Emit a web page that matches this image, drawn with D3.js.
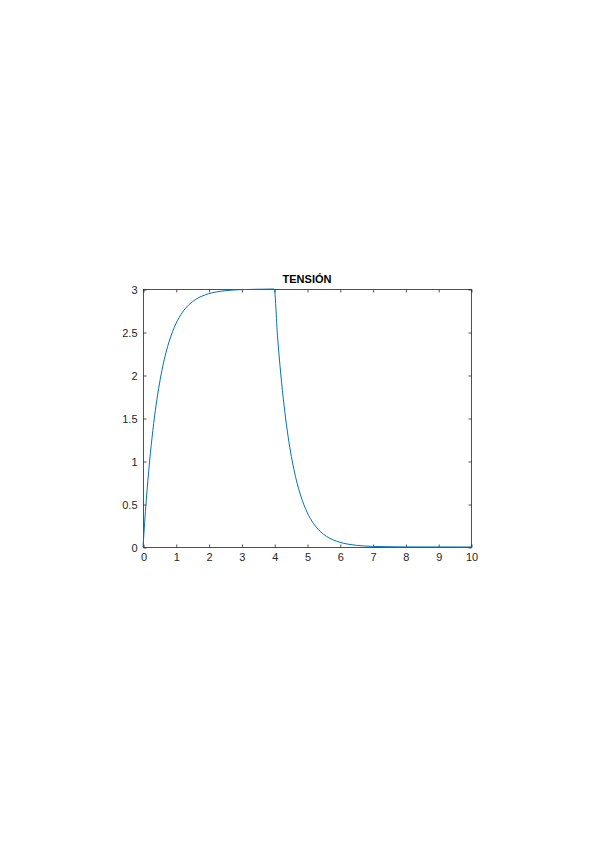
<!doctype html>
<html lang="es">
<head>
<meta charset="UTF-8">
<title>TENSIÓN</title>
<script src="https://d3js.org/d3.v7.min.js"></script>
<style>
  body { margin: 0; background: #fff; }
  svg { display: block; }
  text { font-family: "Liberation Sans", Arial, sans-serif; }
</style>
</head>
<body>
<script>
// values (time, voltage)
var tiempo = [0, 0.1, 0.2, 0.3, 0.4, 0.5, 0.6, 0.7, 0.8, 0.9, 1.0,
              1.1, 1.2, 1.3, 1.4, 1.5, 1.6, 1.7, 1.8, 1.9, 2.0,
              2.25, 2.5, 2.75, 3.0, 3.5, 4.0,
              4.1, 4.2, 4.3, 4.4, 4.5, 4.6, 4.7, 4.8, 4.9, 5.0,
              5.2, 5.4, 5.6, 5.8, 6.0, 6.5, 7.0, 7.5, 8.0, 10.0];
var tension = [0, 0.544, 0.989, 1.354, 1.652, 1.896, 2.096, 2.260, 2.394, 2.504, 2.594,
               2.668, 2.728, 2.777, 2.818, 2.851, 2.878, 2.900, 2.918, 2.933, 2.945,
               2.967, 2.980, 2.988, 2.993, 2.997, 3.0,
               2.456, 2.011, 1.646, 1.348, 1.104, 0.904, 0.740, 0.606, 0.496, 0.406,
               0.272, 0.182, 0.122, 0.082, 0.055, 0.020, 0.007, 0.003, 0.001, 0];
var xTicks = [0, 1, 2, 3, 4, 5, 6, 7, 8, 9, 10];
var yTicks = [0, 0.5, 1, 1.5, 2, 2.5, 3];
var titulo = "TENSIÓN";

var width = 599, height = 848;
var mLeft = 143, mRight = 471, mTop = 289, mBottom = 547;

var svg = d3.select('body').append('svg')
    .attr('width', width)
    .attr('height', height);

var x = d3.scaleLinear().domain([0, 10]).range([mLeft, mRight]);
var y = d3.scaleLinear().domain([0, 3]).range([mBottom, mTop]);

var axisColor = '#262626';
var fmt = d3.format('~g');

// box
svg.append('rect')
    .attr('x', mLeft + 0.5).attr('y', mTop + 0.5)
    .attr('width', mRight - mLeft).attr('height', mBottom - mTop)
    .attr('fill', 'none')
    .attr('stroke', axisColor)
    .attr('stroke-width', 0.8);

// axes with inward ticks
function style(g) {
    g.select('.domain').remove();
    g.selectAll('line').attr('stroke', axisColor).attr('stroke-width', 0.8);
    g.selectAll('text').attr('fill', axisColor).style('font-size', '11px');
}

svg.append('g')
    .attr('transform', 'translate(0.5,' + (mBottom + 0.5) + ')')
    .call(d3.axisBottom(x).tickValues(xTicks).tickFormat(fmt).tickSizeInner(-3).tickSizeOuter(0).tickPadding(6))
    .call(style);

svg.append('g')
    .attr('transform', 'translate(0.5,' + (mTop + 0.5) + ')')
    .call(d3.axisTop(x).tickValues(xTicks).tickSizeInner(-3).tickSizeOuter(0).tickFormat(''))
    .call(style);

svg.append('g')
    .attr('transform', 'translate(' + (mLeft + 0.5) + ',0.5)')
    .call(d3.axisLeft(y).tickValues(yTicks).tickFormat(fmt).tickSizeInner(-3).tickSizeOuter(0).tickPadding(6))
    .call(style);

svg.append('g')
    .attr('transform', 'translate(' + (mRight + 0.5) + ',0.5)')
    .call(d3.axisRight(y).tickValues(yTicks).tickSizeInner(-3).tickSizeOuter(0).tickFormat(''))
    .call(style);

// curve
var puntos = tiempo.map(function(t, i) { return [t, tension[i]]; });
svg.append('path')
    .datum(puntos)
    .attr('fill', 'none')
    .attr('stroke', '#0072BD')
    .attr('stroke-width', 1)
    .attr('d', d3.line()
        .x(function(d) { return x(d[0]); })
        .y(function(d) { return y(d[1]); })
        .curve(d3.curveMonotoneX));

// title
svg.append('text')
    .attr('x', (mLeft + mRight) / 2)
    .attr('y', mTop - 6)
    .attr('text-anchor', 'middle')
    .attr('fill', '#000')
    .style('font-size', '11px')
    .style('font-weight', 'bold')
    .text(titulo);
</script>
</body>
</html>
